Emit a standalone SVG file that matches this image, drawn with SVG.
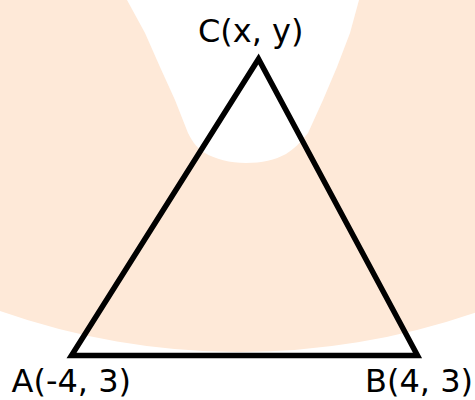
<svg xmlns="http://www.w3.org/2000/svg" width="475" height="400" viewBox="0 0 475 400">
  <style>
    .region { fill: #fee9d8; stroke: none; }
    .edge { fill: none; stroke: #000; stroke-width: 5.5; stroke-linejoin: miter; }
    .label { font-family: "DejaVu Sans", sans-serif; font-size: 32px; fill: #000; }
  </style>
  <rect width="475" height="400" fill="#ffffff"/>
  <path class="region" d="M0,0 L127,0 L145,33 L160,67 L175,100 L188,133 C193,143 198,149 205,153 C215,159 230,163 246,163 C262,163 275,160 286,154 C294,149 300,143 308,133 L323,100 L337,67 L350,33 L359,0 L475,0 L475,312.7 A723,723 0 0 1 0,311 Z"/>
  <g id="connectors">
    <polygon class="edge" points="71.5,355.5 417.5,355.5 258.5,59"/>
  </g>
  <g id="node-A">
    <text class="label" x="11.5" y="392">A(-4, 3)</text>
  </g>
  <g id="node-B">
    <text class="label" x="365" y="392">B(4, 3)</text>
  </g>
  <g id="node-C">
    <text class="label" x="198" y="42">C(x, y)</text>
  </g>
</svg>
